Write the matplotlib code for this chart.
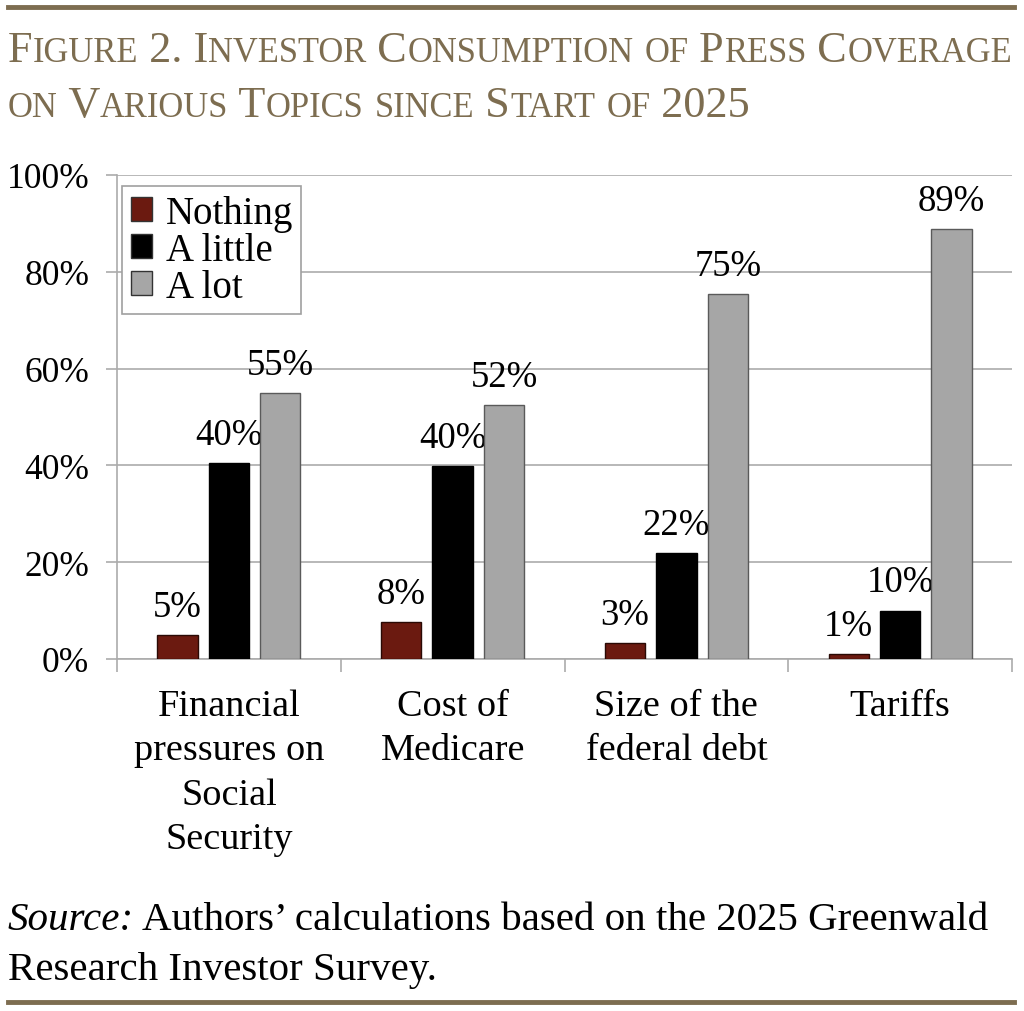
import matplotlib
matplotlib.use("Agg")
import matplotlib.pyplot as plt
from matplotlib.patches import Patch
import numpy as np

categorias = ["Financial\npressures on\nSocial\nSecurity", "Cost of\nMedicare",
              "Size of the\nfederal debt", "Tariffs"]
series = ["Nothing", "A little", "A lot"]
nada = [5.0, 7.7, 3.3, 1.0]
poco = [40.4, 39.8, 21.8, 10.0]
mucho = [54.9, 52.4, 75.4, 88.9]
etiquetas_nada = ["5%", "8%", "3%", "1%"]
etiquetas_poco = ["40%", "40%", "22%", "10%"]
etiquetas_mucho = ["55%", "52%", "75%", "89%"]
titulo = ["Figure 2. Investor Consumption of Press Coverage",
          "on Various Topics since Start of 2025"]

colores = ["#6b1a10", "#000000", "#a6a6a6"]
bordes = ["#2a0a05", "#000000", "#5a5a5a"]
dorado = "#7d6d50"
fuente = "Liberation Serif"

plt.rcParams['font.family'] = [fuente, 'DejaVu Serif']

fig = plt.figure(figsize=(10.24, 10.12), dpi=100)
W, H = 1024, 1012
renderer = fig.canvas.get_renderer()

# Lineas doradas de arriba y abajo
fig.add_artist(plt.Line2D([8 / W, 1014 / W], [1 - 8 / H, 1 - 8 / H], color=dorado, lw=3.5))
fig.add_artist(plt.Line2D([8 / W, 1014 / W], [1 - 1003 / H, 1 - 1003 / H], color=dorado, lw=3.5))


def versalitas(linea, x0, y0, size, ratio=0.78, dibujar=True):
  # Escribe una linea en versalitas, trozo a trozo
  trozos = []
  for c in linea:
    baja = c.islower()
    if trozos and trozos[-1][1] == baja:
      trozos[-1][0] += c
    else:
      trozos.append([c, baja])
  x = x0
  textos = []
  for s, baja in trozos:
    t = fig.text(x / W, 1 - y0 / H, s.upper(), fontsize=size * (ratio if baja else 1.0),
                 color=dorado, va='baseline', ha='left')
    bb = t.get_window_extent(renderer)
    x += bb.width
    textos.append(t)
  if not dibujar:
    for t in textos:
      t.remove()
  return x - x0


# Ajusto el tamano del titulo al ancho
ancho = versalitas(titulo[0], 8, 62, 30, dibujar=False)
tam = 30 * 1004 / ancho
versalitas(titulo[0], 8, 62, tam)
versalitas(titulo[1], 8, 117, tam)

# Fuente del dato
def fuente_linea(partes, x0, y0, size, dibujar=True):
  x = x0
  textos = []
  for s, estilo in partes:
    t = fig.text(x / W, 1 - y0 / H, s, fontsize=size, style=estilo, color="black",
                 va='baseline', ha='left')
    x += t.get_window_extent(renderer).width
    textos.append(t)
  if not dibujar:
    for t in textos:
      t.remove()
  return x - x0

linea1 = [("Source:", "italic"), (" Authors\u2019 calculations based on the 2025 Greenwald", "normal")]
ancho = fuente_linea(linea1, 8, 930, 28, dibujar=False)
tam_f = 28 * 980 / ancho
fuente_linea(linea1, 8, 930, tam_f)
fuente_linea([("Research Investor Survey.", "normal")], 8, 980, tam_f)

# Grafica
ax = fig.add_axes([117 / W, 1 - 660 / H, 895 / W, 484 / H])
x = np.arange(len(categorias))
ancho_barra = 0.18
paso = 0.23
datos = [nada, poco, mucho]
etiquetas = [etiquetas_nada, etiquetas_poco, etiquetas_mucho]
for i in range(3):
  pos = x + (i - 1) * paso
  ax.bar(pos, datos[i], ancho_barra, color=colores[i], edgecolor=bordes[i], linewidth=1.0, zorder=3)
  for p, v, e in zip(pos, datos[i], etiquetas[i]):
    ax.annotate(e, (p, v), xytext=(0, 8), textcoords="offset points", ha='center', va='bottom',
                fontsize=26.5)

ax.set_xlim(-0.5, 3.5)
ax.set_ylim(0, 100)
ax.set_yticks(range(0, 101, 20))
ax.set_yticklabels(["%d%%" % v for v in range(0, 101, 20)], fontsize=25.5)
ax.yaxis.grid(True, color="#ababab", lw=1.2, zorder=0)
ax.set_axisbelow(True)
for s in ["top", "right"]:
  ax.spines[s].set_visible(False)
for s in ["left", "bottom"]:
  ax.spines[s].set_color("#ababab")
  ax.spines[s].set_linewidth(1.2)
ax.tick_params(axis='y', length=8, width=1.2, color="#ababab", pad=12)

ax.set_xticks(x)
ax.set_xticklabels(categorias, fontsize=27.5)
ax.set_xticks(np.arange(-0.5, 3.6, 1), minor=True)
ax.tick_params(axis='x', which='major', length=0, pad=21)
ax.tick_params(axis='x', which='minor', length=9, width=1.2, color="#ababab")
for t in ax.get_xticklabels():
  t.set_linespacing(1.38)
  t.set_verticalalignment('top')

manejadores = [Patch(facecolor=colores[i], edgecolor="#333333", lw=1.0) for i in range(3)]
leg = ax.legend(manejadores, series, loc="upper left", bbox_to_anchor=(5 / 895, 1 - 11 / 484),
                borderaxespad=0, fontsize=28, handlelength=0.55, handleheight=0.55,
                handletextpad=0.35, labelspacing=0.0, borderpad=0.22, fancybox=False,
                framealpha=1, edgecolor="#a0a0a0")
leg.get_frame().set_linewidth(1.2)

fig.savefig("out.png", dpi=100)
